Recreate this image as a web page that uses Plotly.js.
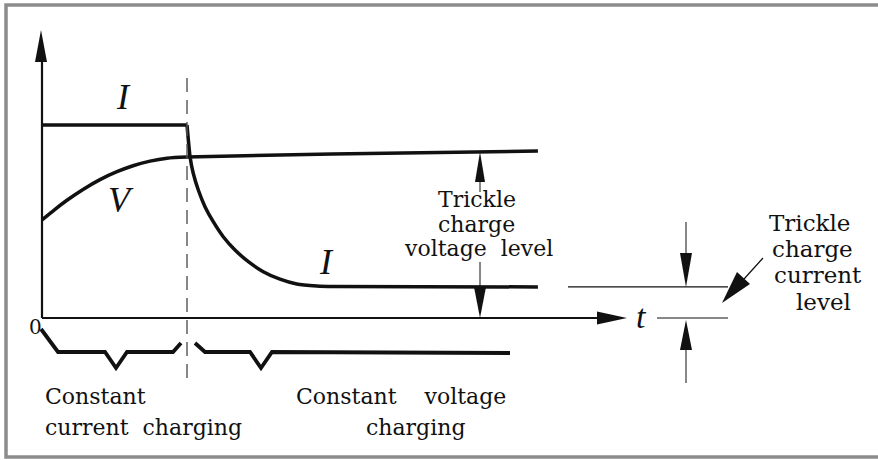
<!DOCTYPE html>
<html>
<head>
<meta charset="utf-8">
<script src="https://cdn.plot.ly/plotly-3.0.1.min.js"></script>
<style>html,body{margin:0;padding:0;background:#fff;}#chart{width:878px;height:460px;}</style>
</head>
<body>
<div id="chart"></div>
<script>
// ---- Data (time in arbitrary units, level in arbitrary units; CC phase ends at t = 10) ----
const ccTime = [0, 10];
const ccCurrent = [10, 10];

const vRiseTime = [0, 0.9, 1.72, 2.83, 4.0, 5.17, 6.28, 7.45, 8.62, 10];
const vRiseValue = [5.08, 5.63, 6.10, 6.66, 7.17, 7.58, 7.89, 8.13, 8.28, 8.34];

const vHoldTime = [10, 20, 34.2];
const vHoldValue = [8.34, 8.5, 8.65];

const iDecayTime = [10, 10.21, 10.43, 10.78, 11.24, 11.81, 12.5, 13.31, 14.23, 15.26, 16.41, 17.57, 18.95, 20.07, 34.2];
const iDecayValue = [10, 8.36, 7.5, 6.63, 5.77, 4.99, 4.21, 3.52, 2.92, 2.4, 2.01, 1.76, 1.66, 1.63, 1.61];

const phaseSwitchTime = 10;

// ---- pixel <-> data helpers (plot occupies the whole page, margins 0) ----
const W = 878, H = 460, OX = 42, OY = 318, SX = 14.5, SY = 19.3;
const tx = p => (p - OX) / SX;
const vy = p => (OY - p) / SY;
const P = (x, y) => tx(x) + ',' + vy(y);
const tri = (tip, b1, b2) => 'M' + P(...tip) + ' L' + P(...b1) + ' L' + P(...b2) + ' Z';

const ink = '#111';
const lineT = (x, y) => ({type:'scatter', mode:'lines', x, y, hoverinfo:'skip'});

const traces = [
  Object.assign(lineT(ccTime, ccCurrent), {line:{color:ink, width:3.5}}),
  Object.assign(lineT(vRiseTime, vRiseValue), {line:{color:ink, width:3.5, shape:'spline', smoothing:0.8}}),
  Object.assign(lineT(vHoldTime, vHoldValue), {line:{color:ink, width:3.5}}),
  Object.assign(lineT(iDecayTime, iDecayValue), {line:{color:ink, width:3.5, shape:'spline', smoothing:0.5}})
];

const vEnd = vHoldValue[vHoldValue.length - 1];
const iEnd = iDecayValue[iDecayValue.length - 1];
const vEndPx = OY - vEnd * SY;
const iEndPx = OY - iEnd * SY;
const arrowX = 480;

const shapes = [
  // frame
  {type:'rect', xref:'paper', yref:'paper', x0:6/W, x1:900/W, y0:1-457/H, y1:1-5/H, line:{color:'#8c8c8c', width:3.5}},
  // axes
  {type:'line', x0:0, x1:0, y0:0, y1:vy(58), line:{color:ink, width:2.2}},
  {type:'line', x0:0, x1:tx(600), y0:0, y1:0, line:{color:ink, width:2.2}},
  {type:'path', path:tri([41,30],[35,62],[47,62]), fillcolor:ink, line:{width:0}},
  {type:'path', path:tri([627,318],[597,311.5],[597,324.5]), fillcolor:ink, line:{width:0}},
  // phase switch dashed line
  {type:'line', x0:phaseSwitchTime, x1:phaseSwitchTime, y0:vy(78), y1:vy(383), line:{color:'#555', width:1.4, dash:'14px,8px'}},
  // trickle voltage arrows
  {type:'path', path:tri([arrowX, vEndPx + 1],[arrowX-5,182],[arrowX+5,182]), fillcolor:ink, line:{width:0}},
  {type:'line', x0:tx(arrowX), x1:tx(arrowX), y0:vy(182), y1:vy(192), line:{color:ink, width:1}},
  {type:'line', x0:tx(arrowX), x1:tx(arrowX), y0:vy(262), y1:iEnd, line:{color:ink, width:1}},
  {type:'path', path:tri([arrowX,318],[arrowX-6,iEndPx],[arrowX+6,iEndPx]), fillcolor:ink, line:{width:0}},
  // right-hand trickle current marker
  {type:'line', x0:tx(568), x1:tx(728), y0:iEnd, y1:iEnd, line:{color:ink, width:1.3}},
  {type:'line', x0:tx(657), x1:tx(728), y0:0, y1:0, line:{color:ink, width:1}},
  {type:'line', x0:tx(686), x1:tx(686), y0:vy(222), y1:vy(254), line:{color:ink, width:1}},
  {type:'path', path:tri([686,iEndPx],[680,253],[692,253]), fillcolor:ink, line:{width:0}},
  {type:'path', path:tri([686,320],[680,350],[692,350]), fillcolor:ink, line:{width:0}},
  {type:'line', x0:tx(686), x1:tx(686), y0:vy(350), y1:vy(383), line:{color:ink, width:1}},
  {type:'line', x0:tx(763), x1:tx(744), y0:vy(258), y1:vy(279), line:{color:ink, width:1.2}},
  {type:'path', path:tri([722,303],[737,272],[750,284]), fillcolor:ink, line:{width:0}},
  // braces
  {type:'path', path:'M'+P(41,329)+' L'+P(58,352)+' L'+P(105,352)+' L'+P(116,368)+' L'+P(127,352)+' L'+P(173,352)+' L'+P(181,343), line:{color:ink, width:3.8}},
  {type:'path', path:'M'+P(195,343)+' L'+P(205,352)+' L'+P(250,352)+' L'+P(261,368)+' L'+P(272,352)+' L'+P(510,353), line:{color:ink, width:3.8}}
];

const serif = 'DejaVu Serif';
const ann = (text, x, y, size, opts) => Object.assign({
  text, xref:'paper', yref:'paper', x:x/W, y:1-y/H, showarrow:false,
  xanchor:'center', yanchor:'middle', font:{family:serif, size:size, color:ink}
}, opts || {});
const ital = {family:'Liberation Serif', size:36, color:ink};
const nb = '\u00A0';

const annotations = [
  ann('<i>I</i>', 123, 97, 36, {font:ital}),
  ann('<i>V</i>', 121, 200, 36, {font:ital}),
  ann('<i>I</i>', 326, 262, 36, {font:ital}),
  ann('<i>t</i>', 641, 316, 34, {font:Object.assign({}, ital, {size:34})}),
  ann('0', 35, 327, 20),
  ann('Trickle', 477, 200, 22),
  ann('charge', 477, 225, 22),
  ann('voltage' + nb + nb + 'level', 478, 248, 22),
  ann('Trickle', 809, 223, 23),
  ann('charge', 812, 249, 23),
  ann('current', 818, 275, 23),
  ann('level', 823, 302, 23),
  ann('Constant', 43, 396, 22, {xanchor:'left'}),
  ann('current' + nb + nb + 'charging', 43, 427, 22, {xanchor:'left'}),
  ann('Constant' + nb + nb + nb + nb + 'voltage', 401, 396, 22),
  ann('charging', 416, 427, 22)
];

const layout = {
  width: W, height: H,
  margin: {l:0, r:0, t:0, b:0, pad:0},
  paper_bgcolor: '#fff', plot_bgcolor: '#fff',
  showlegend: false,
  xaxis: {range:[tx(0), tx(W)], visible:false, fixedrange:true},
  yaxis: {range:[vy(H), vy(0)], visible:false, fixedrange:true},
  shapes, annotations
};

Plotly.newPlot('chart', traces, layout, {staticPlot:true, displayModeBar:false});
</script>
</body>
</html>
